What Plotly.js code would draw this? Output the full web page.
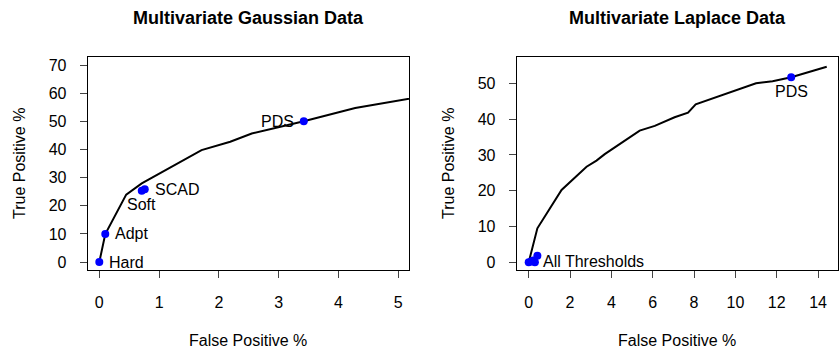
<!DOCTYPE html>
<html>
<head>
<meta charset="utf-8">
<script src="https://cdn.plot.ly/plotly-3.0.1.min.js"></script>
<style>html,body{margin:0;padding:0;background:#fff;}#chart{width:840px;height:350px;}</style>
</head>
<body>
<div id="chart"></div>
<script>
// Gaussian panel: ROC-like curve and method points
var gaussFP = [0, 0.1, 0.45, 0.71, 1.71, 2.19, 2.55, 3.42, 4.28, 6.0];
var gaussTP = [0, 10, 24, 28, 39.8, 42.8, 45.7, 50.1, 54.8, 61.1];
var gaussPtFP = [0, 0.1, 0.71, 0.76, 3.42];
var gaussPtTP = [0, 10, 25.4, 25.9, 50.1];
var gaussPtLabel = ["Hard", "Adpt", "Soft", "SCAD", "PDS"];
var gaussPtPos = ["right", "right", "below", "right", "left"];

// Laplace panel
var lapFP = [0, 0.42, 1.59, 2.8, 3.28, 3.68, 5.37, 6.10, 7.06, 7.71, 8.08, 11.0, 11.8, 12.7, 14.42];
var lapTP = [0, 9.5, 20.2, 26.7, 28.4, 30.2, 36.8, 38.1, 40.5, 41.8, 44.1, 50.0, 50.6, 51.7, 54.6];
var lapPtFP = [0, 0.12, 0.3, 0.22, 0.42, 12.7];
var lapPtTP = [0, 0.2, 0, 0.5, 1.8, 51.7];
var lapPtLabel = ["", "", "", "", "", "PDS"];
var lapPtPos = ["", "", "", "", "", "below"];
var lapGroupLabel = "All Thresholds";

var titles = ["Multivariate Gaussian Data", "Multivariate Laplace Data"];
var xTitle = "False Positive %";
var yTitle = "True Positive %";

var FONT = "Liberation Sans, Arial, Helvetica, sans-serif";

var traces = [
  {x: gaussFP, y: gaussTP, xaxis: "x", yaxis: "y", mode: "lines", line: {color: "#000", width: 2}, hoverinfo: "skip"},
  {x: gaussPtFP, y: gaussPtTP, xaxis: "x", yaxis: "y", mode: "markers", marker: {color: "#0000FF", size: 8}, cliponaxis: false},
  {x: lapFP, y: lapTP, xaxis: "x2", yaxis: "y2", mode: "lines", line: {color: "#000", width: 2}, hoverinfo: "skip"},
  {x: lapPtFP, y: lapPtTP, xaxis: "x2", yaxis: "y2", mode: "markers", marker: {color: "#0000FF", size: 8}, cliponaxis: false}
];

function labelAnn(x, y, text, pos, xr, yr) {
  var a = {x: x, y: y, xref: xr, yref: yr, text: text, showarrow: false, font: {family: FONT, size: 16, color: "#000"}};
  if (pos === "right") { a.xanchor = "left"; a.yanchor = "middle"; a.xshift = 8; }
  else if (pos === "left") { a.xanchor = "right"; a.yanchor = "middle"; a.xshift = -8; }
  else if (pos === "below") { a.xanchor = "center"; a.yanchor = "middle"; a.yshift = -14; }
  return a;
}

var anns = [];
for (var i = 0; i < gaussPtLabel.length; i++) {
  anns.push(labelAnn(gaussPtFP[i], gaussPtTP[i], gaussPtLabel[i], gaussPtPos[i], "x", "y"));
}
for (var j = 0; j < lapPtLabel.length; j++) {
  if (lapPtLabel[j]) anns.push(labelAnn(lapPtFP[j], lapPtTP[j], lapPtLabel[j], lapPtPos[j], "x2", "y2"));
}
var g = labelAnn(lapPtFP[4], lapPtTP[2], lapGroupLabel, "right", "x2", "y2");
g.xshift = 4; g.yshift = 1;
anns.push(g);

// Titles and axis titles (paper coordinates)
var W = 840, H = 350;
function paperAnn(px, py, text, size, bold, rot) {
  return {x: px / W, y: 1 - py / H, xref: "paper", yref: "paper", text: bold ? "<b>" + text + "</b>" : text,
    showarrow: false, xanchor: "center", yanchor: "middle", textangle: rot || 0,
    font: {family: FONT, size: size, color: "#000"}};
}
anns.push(paperAnn(248, 18, titles[0], 18, true));
anns.push(paperAnn(677, 18, titles[1], 18, true));
anns.push(paperAnn(248, 340, xTitle, 16, false));
anns.push(paperAnn(677, 340, xTitle, 16, false));
anns.push(paperAnn(19, 164, yTitle, 16, false, -90));
anns.push(paperAnn(448, 164, yTitle, 16, false, -90));

function axis(domain, range, dtick, anchor) {
  return {domain: domain, range: range, dtick: dtick, tick0: 0, anchor: anchor,
    showgrid: false, zeroline: false, showline: true, mirror: true, linecolor: "#000", linewidth: 1,
    ticks: "outside", ticklen: 7, tickwidth: 1, tickcolor: "#444",
    tickfont: {family: FONT, size: 16, color: "#000"}, fixedrange: true};
}

var layout = {
  width: W, height: H,
  margin: {l: 0, r: 0, t: 0, b: 0},
  paper_bgcolor: "#fff", plot_bgcolor: "#fff",
  showlegend: false,
  xaxis: Object.assign(axis([87.7 / W, 409 / W], [-0.194, 5.18], 1, "y"), {ticklabelstandoff: 11}),
  yaxis: Object.assign(axis([1 - 270 / H, 1 - 57.3 / H], [-2.8, 72.8], 10, "x"), {ticklabelstandoff: 10}),
  xaxis2: Object.assign(axis([516.7 / W, 838.3 / W], [-0.58, 14.98], 2, "y2"), {ticklabelstandoff: 11}),
  yaxis2: Object.assign(axis([1 - 270 / H, 1 - 57.3 / H], [-2.15, 57.26], 10, "x2"), {ticklabelstandoff: 10}),
  annotations: anns
};

Plotly.newPlot("chart", traces, layout, {staticPlot: true, displayModeBar: false});
</script>
</body>
</html>
